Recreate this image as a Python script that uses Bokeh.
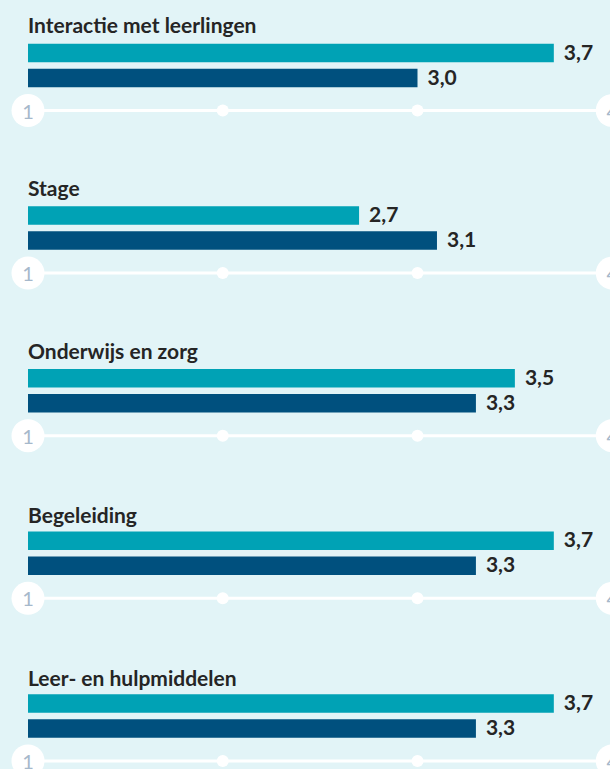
from bokeh.plotting import figure
from bokeh.models import Range1d, ColumnDataSource
from bokeh.core.properties import value
from bokeh.embed import file_html
from bokeh.resources import INLINE

# ---- data ----
categories = ["Interactie met leerlingen", "Stage", "Onderwijs en zorg",
              "Begeleiding", "Leer- en hulpmiddelen"]
series_a = [3.7, 2.7, 3.5, 3.7, 3.7]   # teal bars
series_b = [3.0, 3.1, 3.3, 3.3, 3.3]   # dark blue bars
scale_min = 1
scale_max = 4
scale_ticks = [1, 2, 3, 4]
scale_tick_labels = ["1", "", "", "4"]

# ---- layout (pixels from top) ----
W, H = 610, 769
PANEL = 162.6
BG = "#e2f4f7"
TEAL = "#00a2b5"
DARK = "#00507e"
TXT = "#252525"
TICK_TXT = "#a6b8cb"

n = len(categories)
title_y = [24 + 163.2 * i for i in range(n)]
ya = [52.5 + PANEL * i for i in range(n)]
yb = [77.5 + PANEL * i for i in range(n)]
axis_y = [110 + PANEL * i for i in range(n)]

px_per_unit = 194.75
x0 = scale_min - 27.5 / px_per_unit
x1 = x0 + W / px_per_unit

p = figure(width=W, height=H, output_backend="svg", toolbar_location=None,
           x_range=Range1d(x0, x1), y_range=Range1d(H, 0),
           min_border=0, min_border_left=0, min_border_right=0,
           min_border_top=0, min_border_bottom=0)
p.axis.visible = False
p.grid.visible = False
p.outline_line_color = None
p.background_fill_color = BG
p.border_fill_color = BG

fmt = lambda v: f"{v:.1f}".replace(".", ",")

src = ColumnDataSource(dict(
    cat=categories, a=series_a, b=series_b, ty=title_y, ya=ya, yb=yb, ay=axis_y,
    la=[fmt(v) for v in series_a], lb=[fmt(v) for v in series_b],
    base=[scale_min] * n, top=[scale_max] * n,
))

# axis line
p.segment(x0="base", x1="top", y0="ay", y1="ay", source=src,
          line_color="white", line_width=3)
# tick markers
tx, ty_, tsz, tl = [], [], [], []
for yv in axis_y:
    for t, lab in zip(scale_ticks, scale_tick_labels):
        tx.append(t); ty_.append(yv); tl.append(lab)
        tsz.append(33 if lab else 12)
tsrc = ColumnDataSource(dict(x=tx, y=ty_, s=tsz, t=tl))
p.scatter(x="x", y="y", size="s", source=tsrc, marker="circle",
          fill_color="white", line_color=None)
p.text(x="x", y="y", text="t", source=tsrc, text_align="center",
       text_baseline="middle", text_font=value("Lato"), text_font_size="20px",
       text_color=TICK_TXT, y_offset=1)

# bars
p.hbar(y="ya", left="base", right="a", height=18.5, source=src,
       fill_color=TEAL, line_color=None)
p.hbar(y="yb", left="base", right="b", height=18.5, source=src,
       fill_color=DARK, line_color=None)

# value labels
for xcol, ycol, lcol in (("a", "ya", "la"), ("b", "yb", "lb")):
    p.text(x=xcol, y=ycol, text=lcol, source=src, x_offset=10, text_align="left",
           text_baseline="middle", text_font=value("Lato"), text_font_style="bold",
           text_font_size="21px", text_color=TXT, y_offset=-1)

# titles
p.text(x="base", y="ty", text="cat", source=src, text_align="left",
       text_baseline="alphabetic", text_font=value("Lato"),
       text_font_style="bold", text_font_size="21px", text_color=TXT)

html = file_html(p, INLINE, title="chart")
html = html.replace("<head>", "<head><style>html,body{margin:0;padding:0;overflow:hidden;background:%s;}</style>" % BG, 1)
open("out.html", "w").write(html)
